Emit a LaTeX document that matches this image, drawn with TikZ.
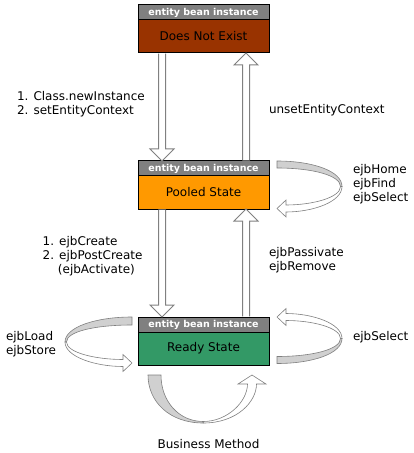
\documentclass[tikz,border=0pt]{standalone}
\usepackage{fontspec}
\setmainfont{DejaVu Sans}
\usetikzlibrary{positioning,calc}

\definecolor{ejb_rot}{RGB}{153,51,0}
\definecolor{ejb_orange}{RGB}{255,153,0}
\definecolor{ejb_gruen}{RGB}{51,153,102}
\definecolor{ejb_grau}{RGB}{128,128,128}
\definecolor{ejb_hellgrau}{RGB}{208,208,208}

% gerader Hohlpfeil von #1 nach #2
\newcommand{\hohlpfeil}[2]{%
  \path #1 coordinate (pa) #2 coordinate (pb);
  \path ($(pa)!0.6bp!(pb)$) coordinate (pq) ($(pb)!12bp!(pa)$) coordinate (ps);
  \path[pfeil] ($(pq)!3.5bp!90:(pb)$) -- ($(ps)!3.5bp!90:(pb)$) -- ($(ps)!12bp!90:(pb)$)
    -- (pb) -- ($(ps)!12bp!-90:(pb)$) -- ($(ps)!3.5bp!-90:(pb)$) -- ($(pq)!3.5bp!-90:(pb)$);
}

% Schleife: Abstand/Tiefe/Breite Anfang/Breite Ende/Spitze
\tikzset{
  pics/schleife/.style args={#1/#2/#3/#4/#5}{code={
    \path[bandrueck] (0,-#3) .. controls ({0.55*#2},-#3) and (#2,{0.15*#1}) .. (#2,{0.5*#1})
      -- ({#2-1.5},{0.5*#1}) .. controls ({#2-1.5},{0.25*#1}) and ({0.55*#2},#3) .. (0,#3) -- cycle;
    \path[bandvorn] (#2,{0.5*#1}) .. controls (#2,{0.85*#1}) and ({0.55*#2},{#1+#4}) .. (9,{#1+#4})
      -- (9,{#1+#5}) -- (0,#1) -- (9,{#1-#5}) -- (9,{#1-#4})
      .. controls ({0.55*#2},{#1-#4}) and ({#2-1.5},{0.75*#1}) .. ({#2-1.5},{0.5*#1}) -- cycle;
  }}
}

\begin{document}
\begin{tikzpicture}[
    x=1bp, y=-1bp,
    every node/.style={
      font=\fontsize{12bp}{14bp}\selectfont,
      inner sep=0pt,
      outer sep=0pt
    },
    kopf/.style={
      draw,
      line width=1bp,
      fill=ejb_grau,
      text=white,
      minimum width=131bp,
      minimum height=15bp,
      font=\bfseries\fontsize{9.5bp}{11bp}\selectfont
    },
    zustand/.style={
      draw,
      line width=1bp,
      minimum width=131bp,
      minimum height=33bp
    },
    pfeil/.style={fill=white, draw=ejb_grau, line width=1bp},
    bandrueck/.style={fill=ejb_hellgrau, draw=black!50, line width=0.6bp},
    bandvorn/.style={fill=white, draw=black!50, line width=0.6bp}
  ]
  \useasboundingbox (0,0) rectangle (413,453);

  % Zustaende
  \node[kopf] (dneHead) at (203.5,12.5) {entity bean instance};
  \node[zustand, fill=ejb_rot, below=0pt of dneHead] (dne) {Does Not Exist};

  \node[kopf] (pooledHead) at (203.5,168.5) {entity bean instance};
  \node[zustand, fill=ejb_orange, below=0pt of pooledHead] (pooled) {Pooled State};

  \node[kopf] (readyHead) at (203.5,324.5) {entity bean instance};
  \node[zustand, fill=ejb_gruen, below=0pt of readyHead] (ready) {Ready State};

  % Uebergaenge
  \hohlpfeil{([xshift=-41.5bp]dne.south)}{([xshift=-41.5bp]pooledHead.north)}
  \hohlpfeil{([xshift=42.5bp]pooledHead.north)}{([xshift=42.5bp]dne.south)}
  \hohlpfeil{([xshift=-41.5bp]pooled.south)}{([xshift=-41.5bp]readyHead.north)}
  \hohlpfeil{([xshift=42.5bp]readyHead.north)}{([xshift=42.5bp]pooled.south)}

  % Schleifen
  \pic at ([shift={(8,3.5)}]pooledHead.north east) {schleife=44/65/3.5/3.5/8.5};
  \pic[yscale=-1] at ([shift={(8,-5)}]ready.south east) {schleife=43/65/3.5/3.5/8.5};
  \pic[xscale=-1] at ([shift={(-6,4)}]readyHead.north west) {schleife=42/67/4/3.5/8.5};
  \pic[rotate=-90, yscale=-1] at ([shift={(16.5,10)}]ready.south west) {schleife=97.5/48/6.5/4.5/14};

  % Beschriftungen (base = letzte Zeile)
  \node[anchor=base west, align=left] (lblNeu) at (17,114.7) {1. Class.newInstance\\2. setEntityContext};
  \node[anchor=base west] (lblUnset) at (269,113.3) {unsetEntityContext};
  \node[anchor=base west, align=left] (lblHome) at (353,201.7) {ejbHome\\ejbFind\\ejbSelect};
  \node[anchor=base west, align=left] (lblCreate) at (42.7,273.3) {1. ejbCreate\\2. ejbPostCreate\\\phantom{2.~}(ejbActivate)};
  \node[anchor=base west, align=left] (lblPassiv) at (269,270.7) {ejbPassivate\\ejbRemove};
  \node[anchor=base west, align=left] (lblLoad) at (6,354.7) {ejbLoad\\ejbStore};
  \node[anchor=base west] (lblSelect) at (353,340.7) {ejbSelect};
  \node[anchor=base] (lblBusiness) at (208.5,448.3) {Business Method};
\end{tikzpicture}
\end{document}
